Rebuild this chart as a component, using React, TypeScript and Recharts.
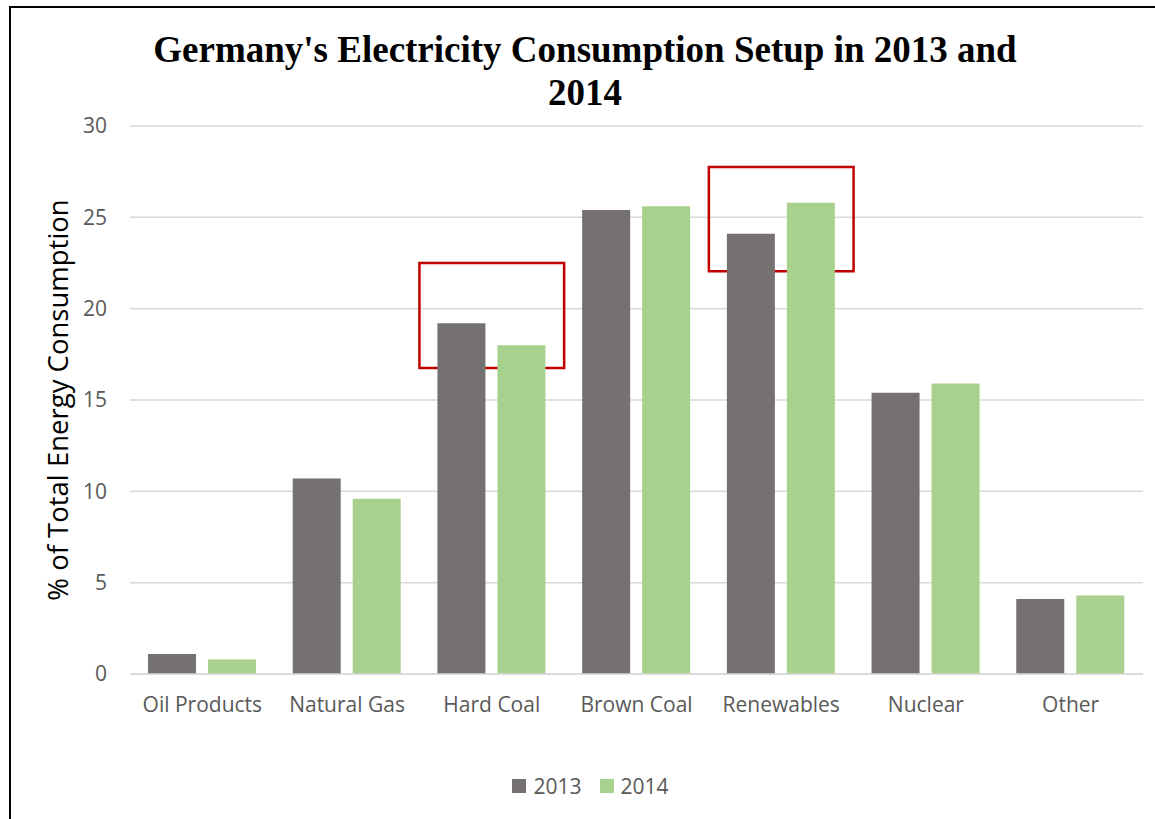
import React from 'react';
import {
  BarChart,
  Bar,
  XAxis,
  YAxis,
  CartesianGrid,
  Legend,
  ReferenceArea,
} from 'recharts';

const categories = [
  'Oil Products',
  'Natural Gas',
  'Hard Coal',
  'Brown Coal',
  'Renewables',
  'Nuclear',
  'Other',
];
const share2013 = [1.1, 10.7, 19.2, 25.4, 24.1, 15.4, 4.1];
const share2014 = [0.8, 9.6, 18.0, 25.6, 25.8, 15.9, 4.3];
const yTicks = [0, 5, 10, 15, 20, 25, 30];

// highlighted categories with the value range boxed in red
const highlightCats = ['Hard Coal', 'Renewables'];
const highlightLow = [16.75, 22.05];
const highlightHigh = [22.5, 27.75];

const W = 1155;
const H = 819;
const C2013 = '#767171';
const C2014 = '#A9D18E';
const TICK_FONT = '"Open Sans", sans-serif';

const data = categories.map((name, i) => ({
  name,
  y2013: share2013[i],
  y2014: share2014[i],
}));

function LegendContent() {
  const items = [
    { label: '2013', color: C2013 },
    { label: '2014', color: C2014 },
  ];
  return (
    <div
      style={{
        display: 'flex',
        justifyContent: 'center',
        alignItems: 'center',
        fontFamily: TICK_FONT,
        fontSize: 21,
        color: '#595959',
        paddingLeft: 44,
      }}
    >
      {items.map((it) => (
        <span
          key={it.label}
          style={{ display: 'inline-flex', alignItems: 'center', marginRight: 18 }}
        >
          <span
            style={{
              width: 14,
              height: 14,
              background: it.color,
              display: 'inline-block',
              marginRight: 7,
            }}
          />
          {it.label}
        </span>
      ))}
    </div>
  );
}

export default function App() {
  return (
    <div
      style={{
        position: 'fixed',
        left: 0,
        top: 0,
        width: W,
        height: H,
        background: '#fff',
        overflow: 'hidden',
      }}
    >
      <div
        style={{
          position: 'absolute',
          left: 9,
          top: 6,
          width: W,
          height: H,
          borderLeft: '2px solid #000',
          borderTop: '2px solid #000',
        }}
      />
      <div
        style={{
          position: 'absolute',
          left: 135,
          width: 900,
          top: 28,
          textAlign: 'center',
          fontFamily: '"Liberation Serif", "Times New Roman", serif',
          fontWeight: 'bold',
          fontSize: 37,
          lineHeight: '43px',
          color: '#000',
        }}
      >
        Germany's Electricity Consumption Setup in 2013 and 2014
      </div>
      <BarChart
        width={W}
        height={H}
        data={data}
        margin={{ top: 126, right: 12, bottom: 115, left: 20 }}
        barGap={12}
        style={{ position: 'absolute', left: 0, top: 0 }}
      >
        <CartesianGrid vertical={false} stroke="#D9D9D9" strokeWidth={1.5} />
        <XAxis
          dataKey="name"
          axisLine={{ stroke: '#D9D9D9', strokeWidth: 1.5 }}
          tickLine={false}
          tickSize={0}
          tickMargin={23}
          interval={0}
          tick={{ fill: '#595959', fontSize: 21, fontFamily: TICK_FONT }}
        />
        <YAxis
          width={110}
          domain={[0, 30]}
          ticks={yTicks}
          axisLine={false}
          tickLine={false}
          tickSize={0}
          tickMargin={23}
          tick={{ fill: '#595959', fontSize: 21, fontFamily: TICK_FONT }}
          label={{
            value: '% of Total Energy Consumption',
            angle: -90,
            position: 'insideLeft',
            offset: 38,
            style: {
              textAnchor: 'middle',
              fill: '#000',
              fontSize: 27.5,
              fontFamily: TICK_FONT,
            },
          }}
        />
        <Legend
          verticalAlign="middle"
          align="center"
          wrapperStyle={{ top: 772, left: 0, width: W }}
          content={() => <LegendContent />}
        />
        <Bar dataKey="y2013" name="2013" fill={C2013} barSize={48} isAnimationActive={false} />
        <Bar dataKey="y2014" name="2014" fill={C2014} barSize={48} isAnimationActive={false} />
        {highlightCats.map((cat, i) => (
          <ReferenceArea
            key={cat}
            x1={cat}
            x2={cat}
            y1={highlightLow[i]}
            y2={highlightHigh[i]}
            fill="none"
            fillOpacity={0}
            stroke="#C00000"
            strokeWidth={2.5}
            ifOverflow="visible"
          />
        ))}
      </BarChart>
    </div>
  );
}
